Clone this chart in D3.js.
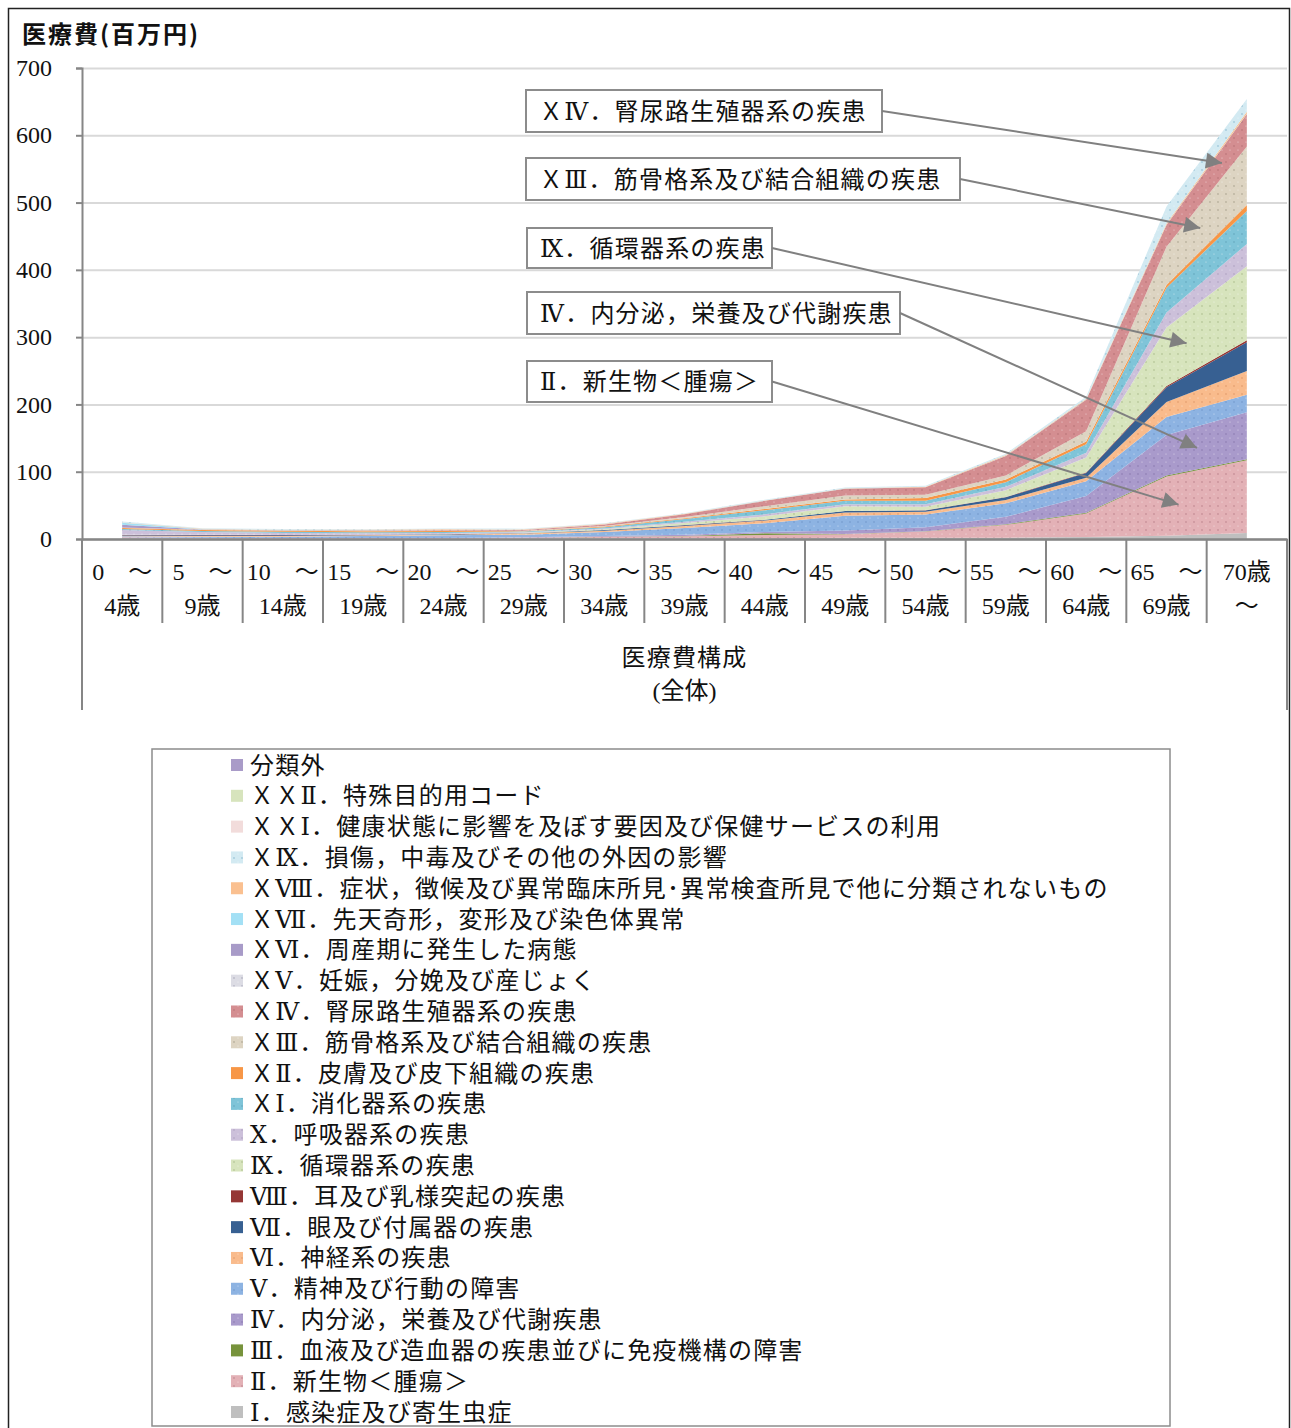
<!DOCTYPE html>
<html>
<head>
<meta charset="utf-8">
<script src="https://cdn.jsdelivr.net/npm/d3@7"></script>
<style>
  body { margin: 0; background: #fff; }
  svg text { font-family: "Liberation Serif", "DejaVu Serif", "Noto Sans CJK JP", serif; fill: #111; }
  .jp { letter-spacing: 1.2px; }
</style>
</head>
<body>
<svg id="chart" width="1291" height="1428"></svg>
<script>
// Age groups (two display lines each)
const ageGroups = [
  ["0　～", "4歳"], ["5　～", "9歳"], ["10　～", "14歳"], ["15　～", "19歳"],
  ["20　～", "24歳"], ["25　～", "29歳"], ["30　～", "34歳"], ["35　～", "39歳"],
  ["40　～", "44歳"], ["45　～", "49歳"], ["50　～", "54歳"], ["55　～", "59歳"],
  ["60　～", "64歳"], ["65　～", "69歳"], ["70歳", "～"]
];

// Medical cost by disease chapter (million yen), per age group
const infection       = [2, 1, 0.5, 0.5, 0.5, 1, 1, 1, 1, 2, 2, 2, 3, 5, 9];
const neoplasms       = [0.5, 0.5, 0.5, 0.5, 0.5, 1, 2, 3, 5, 5, 9, 19, 35, 88, 108];
const blood           = [0, 0, 0, 0, 0, 0, 0.3, 0.5, 2.5, 0.5, 0.5, 1, 1, 1.5, 1.5];
const endocrine       = [0.5, 0.5, 0.5, 0.5, 0.5, 0.5, 1, 2, 2, 5, 6, 11, 25, 60, 70];
const mental          = [1, 1.5, 2, 3, 4, 4, 6, 10, 13, 22, 19, 20, 22, 27, 26];
const nervous         = [1, 1, 1, 1, 1, 1.5, 2, 3, 4, 5, 4, 5, 5, 22, 35];
const eye             = [0.5, 1, 1, 0.5, 0.5, 0.5, 1, 1, 1, 2, 2, 4, 7, 22, 43];
const ear             = [0.5, 0.5, 0.3, 0.2, 0.2, 0.2, 0.2, 0.2, 0.2, 0.3, 0.3, 0.5, 1, 2, 3];
const circulatory     = [0.3, 0.3, 0.3, 0.3, 0.3, 0.5, 1, 3, 5, 7, 5, 10, 22, 87, 110];
const respiratory     = [7, 4, 3, 2, 1.5, 1, 1, 2, 3, 3, 4, 5, 7, 22, 33];
const digestive       = [1.5, 1.5, 1.5, 1.5, 1.5, 1, 2, 4, 6, 5, 5, 7, 13, 37, 49];
const skin            = [1.5, 1.5, 1.5, 1.5, 1.5, 0.5, 1, 1, 2, 2, 4, 4, 4, 4, 9];
const musculoskeletal = [0.3, 0.3, 0.5, 0.5, 0.5, 0.5, 1, 2, 4, 6, 5, 6, 15, 57, 87];
const genitourinary   = [0.5, 0.3, 0.3, 0.5, 1, 1, 2, 4, 8, 10, 11, 29, 47, 32, 48];
const pregnancy       = [0, 0, 0, 0.3, 0.5, 0.5, 0.3, 0, 0, 0, 0, 0, 0, 0, 0];
const perinatal       = [4, 0.2, 0, 0, 0, 0, 0, 0, 0, 0, 0, 0, 0, 0, 0];
const congenital      = [3, 0.5, 0.3, 0.3, 0.2, 0.2, 0.2, 0.2, 0.2, 0.2, 0.2, 0.3, 0.3, 0.5, 0.5];
const symptoms        = [0.5, 0.5, 0.5, 0.5, 0.5, 0.5, 0.5, 0.5, 0.5, 0.5, 0.5, 1, 1, 2, 3];
const injury          = [1.5, 1, 1, 1, 1, 1, 1, 1, 1, 1, 1.5, 2, 3, 25, 19];
const healthFactors   = [0, 0, 0, 0, 0, 0, 0, 0, 0, 0, 0, 0, 0, 0, 0];
const specialCodes    = [0, 0, 0, 0, 0, 0, 0, 0, 0, 0, 0, 0, 0, 0, 0];
const unclassified    = [0, 0, 0, 0, 0, 0, 0, 0, 0, 0, 0, 0, 0, 0, 0];

// Stack order, bottom to top
const seriesValues = [infection, neoplasms, blood, endocrine, mental, nervous, eye, ear,
  circulatory, respiratory, digestive, skin, musculoskeletal, genitourinary, pregnancy,
  perinatal, congenital, symptoms, injury, healthFactors, specialCodes, unclassified];

const seriesLabels = [
  " Ⅰ．感染症及び寄生虫症",
  "Ⅱ．新生物＜腫瘍＞",
  "Ⅲ．血液及び造血器の疾患並びに免疫機構の障害",
  "Ⅳ．内分泌，栄養及び代謝疾患",
  "Ⅴ．精神及び行動の障害",
  "Ⅵ．神経系の疾患",
  "Ⅶ．眼及び付属器の疾患",
  "Ⅷ．耳及び乳様突起の疾患",
  "Ⅸ．循環器系の疾患",
  "Ⅹ．呼吸器系の疾患",
  "ＸⅠ．消化器系の疾患",
  "ＸⅡ．皮膚及び皮下組織の疾患",
  "ＸⅢ．筋骨格系及び結合組織の疾患",
  "ＸⅣ．腎尿路生殖器系の疾患",
  "ＸⅤ．妊娠，分娩及び産じょく",
  "ＸⅥ．周産期に発生した病態",
  "ＸⅦ．先天奇形，変形及び染色体異常",
  "ＸⅧ．症状，徴候及び異常臨床所見･異常検査所見で他に分類されないもの",
  "ＸⅨ．損傷，中毒及びその他の外因の影響",
  "ＸＸⅠ．健康状態に影響を及ぼす要因及び保健サービスの利用",
  "ＸＸⅡ．特殊目的用コード",
  "分類外"
];

const yTicks = [0, 100, 200, 300, 400, 500, 600, 700];

// Callouts: series index, text, fraction between the last two age groups
const calloutSeries = [13, 12, 8, 3, 1];
const calloutTexts = [
  "ＸⅣ．腎尿路生殖器系の疾患",
  "ＸⅢ．筋骨格系及び結合組織の疾患",
  "Ⅸ．循環器系の疾患",
  "Ⅳ．内分泌，栄養及び代謝疾患",
  "Ⅱ．新生物＜腫瘍＞"
];
const calloutFractions = [0.69, 0.42, 0.25, 0.38, 0.15];

// ---- styles ----
const seriesStyle = [
  { fill: "#bfbfbf" },
  { fill: "#e3b1b6", dot: "#c9929a" },
  { fill: "#77933c" },
  { fill: "#a99acb", dot: "#9484b8" },
  { fill: "#8db3e2", dot: "#7aa0d2" },
  { fill: "#f9bb8c", dot: "#e8a474" },
  { fill: "#376092" },
  { fill: "#953735" },
  { fill: "#d7e4bd", dot: "#b9c99c" },
  { fill: "#ccc0da", dot: "#b8abc9" },
  { fill: "#7fc4d8", dot: "#6bb0c5" },
  { fill: "#f79646" },
  { fill: "#ddd4c2", dot: "#b9b29e" },
  { fill: "#d48e91", dot: "#c07a7e" },
  { fill: "#dcdce4", dot: "#b9b9c6" },
  { fill: "#a89bc8" },
  { fill: "#a3e0f5" },
  { fill: "#fac090" },
  { fill: "#d3eaf2", dot: "#a2cadb" },
  { fill: "#f2dcdb" },
  { fill: "#d7e4bd" },
  { fill: "#a99bc8" }
];

const svg = d3.select("#chart");

// outer frame
svg.append("rect").attr("x", 8.5).attr("y", 8.5).attr("width", 1281).attr("height", 1440)
  .attr("fill", "none").attr("stroke", "#222").attr("stroke-width", 1.5);

// texture patterns
const defs = svg.append("defs");
seriesStyle.forEach((s, i) => {
  if (!s.dot) return;
  const p = defs.append("pattern").attr("id", "tex" + i).attr("patternUnits", "userSpaceOnUse")
    .attr("width", 8).attr("height", 8);
  p.append("rect").attr("width", 8).attr("height", 8).attr("fill", s.fill);
  p.append("circle").attr("cx", 2).attr("cy", 2).attr("r", 0.9).attr("fill", s.dot);
  p.append("circle").attr("cx", 6).attr("cy", 6).attr("r", 0.6).attr("fill", "#fff").attr("opacity", 0.6);
});
const fillOf = i => seriesStyle[i].dot ? `url(#tex${i})` : seriesStyle[i].fill;

// scales
const plotLeft = 82, plotRight = 1287, plotTop = 68, plotBase = 539;
const x = d3.scaleBand().domain(d3.range(ageGroups.length)).range([plotLeft, plotRight]).padding(0);
const bw = x.bandwidth();
const xc = i => x(i) + bw / 2;
const y = d3.scaleLinear().domain([0, 700]).range([plotBase, plotTop]);

// gridlines
svg.append("g").attr("transform", `translate(${plotLeft},0)`)
  .call(d3.axisLeft(y).tickValues(yTicks).tickSize(-(plotRight - plotLeft)).tickFormat(""))
  .call(g => g.select(".domain").remove())
  .call(g => g.selectAll("line").attr("stroke", "#d9d9d9").attr("stroke-width", 2));

// stacked data
const keys = seriesValues.map((_, i) => "s" + i);
const rows = ageGroups.map((_, j) => {
  const r = { idx: j };
  seriesValues.forEach((v, i) => r["s" + i] = v[j]);
  return r;
});
const stacked = d3.stack().keys(keys)(rows);

const area = d3.area()
  .x(d => xc(d.data.idx))
  .y0(d => y(d[0]))
  .y1(d => y(d[1]))
  .curve(d3.curveLinear);

svg.append("g").selectAll("path").data(stacked).join("path")
  .attr("d", area)
  .attr("fill", (d, i) => fillOf(i));

// y axis
svg.append("g").attr("transform", `translate(${plotLeft},0)`)
  .call(d3.axisLeft(y).tickValues(yTicks).tickSize(6).tickPadding(24))
  .call(g => g.select(".domain").attr("stroke", "#868686").attr("stroke-width", 2))
  .call(g => g.selectAll(".tick line").attr("stroke", "#868686").attr("stroke-width", 2))
  .call(g => g.selectAll(".tick text").attr("font-size", 24).attr("fill", "#111"));

// x axis line
svg.append("g").attr("transform", `translate(0,${plotBase})`)
  .call(d3.axisBottom(x).tickSize(0).tickFormat(""))
  .call(g => g.select(".domain").attr("stroke", "#868686").attr("stroke-width", 2.5));

// category separators
const seps = d3.range(ageGroups.length + 1);
svg.append("g").selectAll("line").data(seps).join("line")
  .attr("x1", i => i < ageGroups.length ? x(i) : plotRight)
  .attr("x2", i => i < ageGroups.length ? x(i) : plotRight)
  .attr("y1", plotBase)
  .attr("y2", i => (i === 0 || i === ageGroups.length) ? 710 : 623)
  .attr("stroke", "#868686").attr("stroke-width", 2);

// category labels
const catG = svg.append("g").attr("font-size", 24).attr("text-anchor", "middle");
ageGroups.forEach((lines, i) => {
  catG.append("text").attr("x", xc(i)).attr("y", 580).text(lines[0]);
  catG.append("text").attr("x", xc(i)).attr("y", 614).text(lines[1]);
});

// outer category label
const midX = (plotLeft + plotRight) / 2;
svg.append("text").attr("class", "jp").attr("x", midX).attr("y", 666).attr("text-anchor", "middle")
  .attr("font-size", 24).text("医療費構成");
svg.append("text").attr("x", midX).attr("y", 699).attr("text-anchor", "middle")
  .attr("font-size", 24).text("(全体)");

// y axis title
svg.append("text").attr("x", 22).attr("y", 43).attr("font-size", 24).attr("font-weight", "bold")
  .style("font-family", "'Noto Sans CJK JP'").style("letter-spacing", "2px").text("医療費(百万円)");

// arrow marker
defs.append("marker").attr("id", "arrow").attr("markerUnits", "userSpaceOnUse")
  .attr("viewBox", "0 0 10 10").attr("refX", 10).attr("refY", 5)
  .attr("markerWidth", 18).attr("markerHeight", 16).attr("orient", "auto")
  .append("path").attr("d", "M0,0 L10,5 L0,10 Z").attr("fill", "#808080");

// callouts
const boxPos = [[526, 90, 356, 42], [526, 158, 434, 42], [527, 228, 245, 40], [527, 292, 373, 42], [527, 361, 245, 41]];
const lastI = ageGroups.length - 1, prevI = lastI - 1;
calloutTexts.forEach((txt, k) => {
  const si = calloutSeries[k], f = calloutFractions[k];
  const s = stacked[si];
  const lo = s[prevI][0] + f * (s[lastI][0] - s[prevI][0]);
  const hi = s[prevI][1] + f * (s[lastI][1] - s[prevI][1]);
  const tx = xc(prevI) + f * (xc(lastI) - xc(prevI));
  const ty = y((lo + hi) / 2);
  const [bx, by, bwid, bh] = boxPos[k];
  const g = svg.append("g");
  g.append("rect").attr("x", bx).attr("y", by).attr("width", bwid).attr("height", bh)
    .attr("fill", "#fff").attr("stroke", "#8c8c8c").attr("stroke-width", 2);
  g.append("text").attr("class", "jp").attr("x", bx + 13).attr("y", by + bh / 2 + 8.5)
    .attr("font-size", 24).text(txt);
  svg.append("line").attr("x1", bx + bwid).attr("y1", by + bh / 2).attr("x2", tx).attr("y2", ty)
    .attr("stroke", "#808080").attr("stroke-width", 2).attr("marker-end", "url(#arrow)");
});

// legend
svg.append("rect").attr("x", 152).attr("y", 749).attr("width", 1018).attr("height", 677)
  .attr("fill", "#fff").attr("stroke", "#8c8c8c").attr("stroke-width", 1.5);
const legendOrder = d3.range(seriesLabels.length).reverse();
const lg = svg.append("g");
legendOrder.forEach((si, r) => {
  const cy = 765 + r * 30.81;
  lg.append("rect").attr("x", 231).attr("y", cy - 6).attr("width", 12).attr("height", 12)
    .attr("fill", fillOf(si));
  lg.append("text").attr("class", "jp").attr("x", 250).attr("y", cy + 8.5).attr("font-size", 24)
    .text(seriesLabels[si]);
});
</script>
</body>
</html>
